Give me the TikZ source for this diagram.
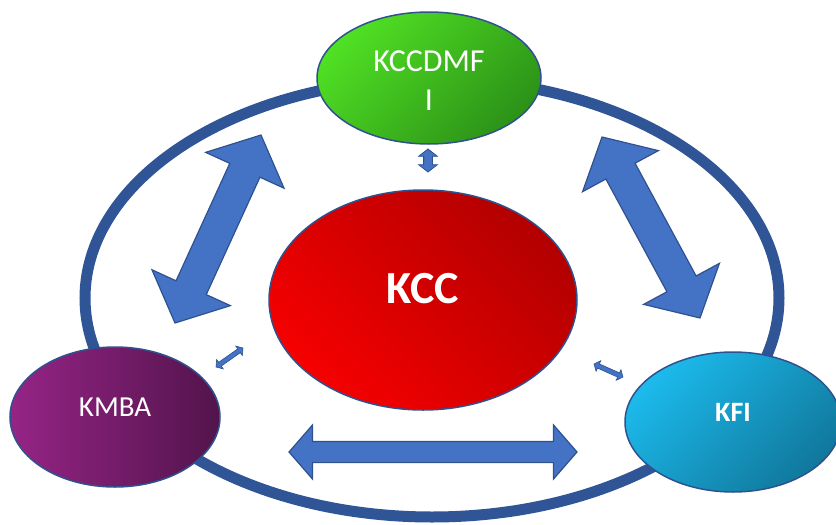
\documentclass[tikz,border=0pt]{standalone}
\usepackage{fontspec}
\setmainfont{Carlito}
\usetikzlibrary{positioning,calc,shapes.geometric,shapes.arrows}

\begin{document}
\begin{tikzpicture}[x=1pt, y=-1pt,
		blob/.style={ellipse, draw=edgeblue, line width=1.5pt, inner sep=0pt, text=white},
		fatarrow/.style={double arrow, draw=edgeblue, fill=arrowblue, line width=1.2pt, inner xsep=0pt, double arrow tip angle=96}]
		% Define colors
		\definecolor{ringblue}{RGB}{47, 85, 151}
		\definecolor{edgeblue}{RGB}{47, 82, 143}
		\definecolor{arrowblue}{RGB}{68, 114, 196}
		\definecolor{greenA}{RGB}{80, 224, 36}
		\definecolor{greenB}{RGB}{44, 146, 24}
		\definecolor{redA}{RGB}{246, 0, 0}
		\definecolor{redB}{RGB}{178, 0, 0}
		\definecolor{purpleA}{RGB}{150, 36, 134}
		\definecolor{purpleB}{RGB}{82, 20, 76}
		\definecolor{cyanA}{RGB}{28, 186, 236}
		\definecolor{cyanB}{RGB}{16, 120, 156}
		
		\useasboundingbox (0,0) rectangle (836,525);
		
		% ===== OUTER RING =====
		\node[ellipse, draw=ringblue, line width=11pt, minimum width=694pt, minimum height=438pt] (ring) at (432,298) {};
		
		% ===== ELLIPSES =====
		% Top - KCCDMFI
		\node[blob, minimum width=224pt, minimum height=132pt, left color=greenA, right color=greenB, shading angle=45, font=\fontsize{32}{39}\selectfont] (kccdmfi) at (429,78) {\raisebox{0pt}[\dimexpr\height+11pt\relax]{\begin{tabular}{@{}c@{}}KCCDMF\\I\end{tabular}}};
		
		% Centre - KCC
		\node[blob, minimum width=308pt, minimum height=220pt, left color=redA, right color=redB, shading angle=135, font=\bfseries\fontsize{46}{50}\selectfont] (kcc) at (423,300) {\raisebox{24pt}{KCC}};
		
		% Left - KMBA
		\node[blob, minimum width=210pt, minimum height=140pt, left color=purpleA, right color=purpleB, font=\fontsize{29}{34}\selectfont] (kmba) at (115,417) {\raisebox{20pt}{KMBA}};
		
		% Right - KFI
		\node[blob, minimum width=216pt, minimum height=140pt, left color=cyanA, right color=cyanB, shading angle=45, font=\bfseries\fontsize{28}{32}\selectfont] (kfi) at (733,422) {\raisebox{20pt}{KFI}};
		
		% ===== BIG ARROWS =====
		\coordinate (leftA) at (175,323);
		\coordinate (leftB) at (261,135);
		\path let \p1=($(leftB)-(leftA)$), \n1={atan2(\y1,\x1)}, \n2={veclen(\x1,\y1)} in
			node[fatarrow, minimum height=\n2, inner ysep=16pt, double arrow head extend=26.5pt, rotate=\n1] (bigleft) at ($(leftA)!0.5!(leftB)$) {};
		
		\coordinate (rightA) at (602,137);
		\coordinate (rightB) at (700,318);
		\path let \p1=($(rightB)-(rightA)$), \n1={atan2(\y1,\x1)}, \n2={veclen(\x1,\y1)} in
			node[fatarrow, minimum height=\n2, inner ysep=16pt, double arrow head extend=26.5pt, rotate=\n1] (bigright) at ($(rightA)!0.5!(rightB)$) {};
		
		\coordinate (bottomA) at (289,452);
		\coordinate (bottomB) at (577,452);
		\path let \p1=($(bottomB)-(bottomA)$), \n2={veclen(\x1,\y1)} in
			node[fatarrow, minimum height=\n2, inner ysep=10pt, double arrow head extend=16.5pt, double arrow tip angle=98] (bigbottom) at ($(bottomA)!0.5!(bottomB)$) {};
		
		% ===== SMALL ARROWS =====
		\coordinate (topA) at (428,149);
		\coordinate (topB) at (428,172);
		\path let \p1=($(topB)-(topA)$), \n2={veclen(\x1,\y1)} in
			node[fatarrow, line width=0.8pt, minimum height=\n2, inner ysep=4pt, double arrow head extend=5pt, double arrow tip angle=104, rotate=90] (smalltop) at ($(topA)!0.5!(topB)$) {};
		
		\coordinate (sleftA) at (216,367);
		\coordinate (sleftB) at (243,348);
		\path let \p1=($(sleftB)-(sleftA)$), \n1={atan2(\y1,\x1)}, \n2={veclen(\x1,\y1)} in
			node[fatarrow, line width=0.6pt, minimum height=\n2, inner ysep=2pt, double arrow head extend=3.5pt, double arrow tip angle=100, rotate=\n1] (smallleft) at ($(sleftA)!0.5!(sleftB)$) {};
		
		\coordinate (srightA) at (594,364);
		\coordinate (srightB) at (623,377);
		\path let \p1=($(srightB)-(srightA)$), \n1={atan2(\y1,\x1)}, \n2={veclen(\x1,\y1)} in
			node[fatarrow, line width=0.6pt, minimum height=\n2, inner ysep=2pt, double arrow head extend=3.5pt, double arrow tip angle=100, rotate=\n1] (smallright) at ($(srightA)!0.5!(srightB)$) {};
		
	\end{tikzpicture}
\end{document}
